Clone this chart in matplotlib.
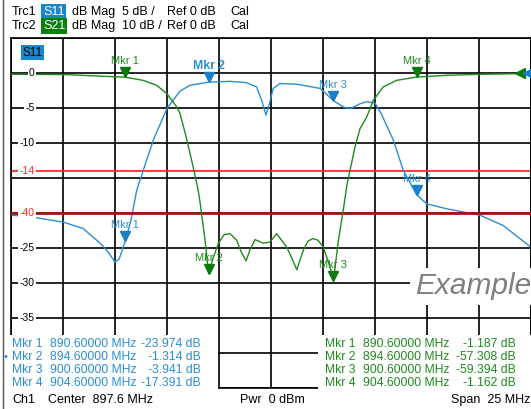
import matplotlib
matplotlib.use("Agg")
import matplotlib.pyplot as plt
import matplotlib.transforms as mtransforms
from matplotlib.patches import Rectangle
from matplotlib.lines import Line2D

plt.rcParams["font.family"] = ["Liberation Sans", "DejaVu Sans"]

# Trace data (frequency in MHz, level in dB)
s11_freq = [885.10, 886.16, 887.60, 888.56, 889.38, 889.75, 890.10, 890.30, 890.48,
            890.60, 890.87, 891.14, 891.46, 891.94, 892.59, 893.22, 893.70, 894.60,
            895.63, 896.43, 896.91, 897.15, 897.36, 897.52, 897.71, 898.03, 898.84,
            899.96, 900.60, 901.08, 901.40, 901.88, 902.20, 902.60, 902.90, 903.48,
            903.96, 904.60, 905.09, 906.05, 907.64, 908.77, 910.10]
s11_db = [-20.3, -20.6, -21.3, -22.2, -24.3, -25.5, -27.0, -26.6, -25.0,
          -23.97, -21.0, -16.8, -13.9, -9.6, -5.1, -2.6, -1.76, -1.31,
          -1.19, -1.38, -2.0, -3.9, -6.0, -4.4, -2.2, -1.5, -1.6,
          -2.2, -3.94, -4.86, -5.1, -4.4, -4.1, -4.3, -5.8, -9.6,
          -13.9, -17.39, -18.7, -19.4, -20.3, -21.8, -24.9]

s21_freq = [885.10, 887.78, 889.52, 890.60, 891.45, 892.10, 892.59, 893.07, 893.22,
            893.51, 893.86, 894.10, 894.19, 894.43, 894.60, 894.81, 895.07, 895.34,
            895.63, 895.95, 896.16, 896.40, 896.59, 896.83, 897.23, 897.55, 897.87,
            898.35, 898.61, 898.84, 899.15, 899.38, 899.63, 899.86, 900.11, 900.44,
            900.60, 900.84, 901.08, 901.25, 901.40, 901.64, 901.88, 902.20, 902.52,
            902.99, 903.64, 904.60, 906.05, 907.65, 909.57, 910.10]
s21_db = [-0.37, -0.46, -0.94, -1.19, -2.1, -3.5, -5.9, -9.7, -11.5,
          -18.0, -26.9, -33.5, -37.0, -47.8, -57.3, -53.0, -48.7, -46.2,
          -45.9, -47.8, -51.0, -53.7, -50.5, -47.6, -48.6, -48.3, -45.9,
          -49.7, -53.0, -56.2, -50.7, -48.0, -47.3, -47.8, -49.7, -55.4,
          -59.39, -47.8, -39.0, -32.0, -27.8, -21.1, -15.9, -12.6, -7.8,
          -4.0, -2.1, -1.16, -0.66, -0.37, -0.2, -0.18]

# Markers
mkr_names = ["Mkr 1", "Mkr 2", "Mkr 3", "Mkr 4"]
mkr_freq = [890.6, 894.6, 900.6, 904.6]
mkr_s11 = [-23.974, -1.314, -3.941, -17.391]
mkr_s21 = [-1.187, -57.308, -59.394, -1.162]

# Axis
center, span = 897.6, 25.0
y_ticks = [0, -5, -10, -25, -30, -35]
limit_s11 = -14
limit_s21 = -40

BLUE = "#2a8ed4"
BLUE_M = "#1a7fc8"
GREEN = "#1f8a1f"
GREEN_M = "#0e7a0e"

W, H = 531, 409
fig = plt.figure(figsize=(W / 100, H / 100), dpi=100)


def fx(px):
    return px / W


def fy(py):
    return 1 - py / H


ax = fig.add_axes([fx(11), fy(388), 520 / W, 350 / H])
ax.set_xlim(center - span / 2, center + span / 2)
ax.set_ylim(-45, 5)
ax.set_xticks([center - span / 2 + 2.5 * i for i in range(11)])
ax.set_yticks(list(range(-45, 6, 5)))
ax.tick_params(length=0, labelbottom=False, labelleft=False)
ax.grid(color="black", lw=1.2)
ax.set_axisbelow(True)
for s in ax.spines.values():
    s.set_color("black")
    s.set_linewidth(1.2)

ax2 = ax.twinx()
ax2.set_ylim(-90, 10)
ax2.tick_params(length=0, labelright=False)
for s in ax2.spines.values():
    s.set_visible(False)

# limit lines
ax.axhline(limit_s11, color="#ff2a2a", lw=1.3)
ax2.axhline(limit_s21, color="#a31515", lw=2)

# traces
ax.plot(s11_freq, s11_db, color=BLUE, lw=1.0)
ax2.plot(s21_freq, s21_db, color=GREEN, lw=1.0)

# markers
tri_off = 3.6
for axis, vals, col, lcol in [(ax, mkr_s11, BLUE_M, BLUE), (ax2, mkr_s21, GREEN_M, GREEN)]:
    tri_tr = mtransforms.offset_copy(axis.transData, fig=fig, y=tri_off, units="points")
    lab_tr = mtransforms.offset_copy(axis.transData, fig=fig, y=11.5, units="points")
    for i, (f, v) in enumerate(zip(mkr_freq, vals)):
        axis.plot([f], [v], marker="v", ms=7.5, color=col, transform=tri_tr, clip_on=False)
        bold = axis is ax and i == 1
        axis.text(f, v, mkr_names[i], transform=lab_tr, ha="center", va="center",
                  color=lcol, fontsize=8.8 if bold else 8,
                  fontweight="bold" if bold else "normal")

# reference level arrows at right edge
ref_tr = mtransforms.blended_transform_factory(ax.transAxes, ax.transData)
ax2.plot([0.979], [0], marker="<", ms=7, color=GREEN_M, transform=ref_tr, clip_on=False)
ax2.plot([0.994], [0], marker="<", ms=7, color=BLUE_M, transform=ref_tr, clip_on=False)

# y labels drawn inside the grid
lab_tr = mtransforms.blended_transform_factory(ax2.transAxes, ax.transData)
for v in y_ticks:
    ax2.text(0.045, v, str(v), transform=lab_tr, ha="right", va="center",
             fontsize=7.5, color="black",
             bbox=dict(fc="white", ec="none", pad=0.8))
ax2.text(0.045, limit_s11, str(limit_s11), transform=lab_tr, ha="right", va="center",
         fontsize=7.5, color="#ff2a2a", bbox=dict(fc="white", ec="none", pad=0.8))
ax2.text(0.045, -20, str(limit_s21), transform=lab_tr, ha="right", va="center",
         fontsize=7.5, color="#ff2a2a", bbox=dict(fc="white", ec="none", pad=0.8))

# trace tag inside the plot
fig.text(fx(22.5), fy(52.5), "S11", ha="left", va="center", fontsize=8.5,
         color="black", zorder=6,
         bbox=dict(fc="#1a86cc", ec="none", pad=1.2))

# watermark
ax2.text(907.3, -30.5, "Example", transform=ax.transData, ha="center", va="center",
         fontsize=21.5, style="italic", color="#808080",
         bbox=dict(fc="white", ec="none", pad=3))

# header
hdr = [("Trc1", "S11", "#1a86cc", "5 dB /", 12), ("Trc2", "S21", "#0b800b", "10 dB /", 26)]
for trc, par, pc, scale, yy in hdr:
    fig.text(fx(12), fy(yy), trc, ha="left", va="center", fontsize=9)
    fig.text(fx(43), fy(yy), par, ha="left", va="center", fontsize=9, color="white",
             bbox=dict(fc=pc, ec="none", pad=1.2))
    fig.text(fx(72), fy(yy), "dB Mag", ha="left", va="center", fontsize=9)
    fig.text(fx(122), fy(yy), scale, ha="left", va="center", fontsize=9)
    fig.text(fx(167), fy(yy), "Ref 0 dB", ha="left", va="center", fontsize=9)
    fig.text(fx(230), fy(yy), "Cal", ha="left", va="center", fontsize=9)

# marker tables
fig.add_artist(Rectangle((fx(5), fy(393)), 213 / W, 58 / H, transform=fig.transFigure,
                         fc="white", ec="none", zorder=3))
fig.add_artist(Rectangle((fx(318), fy(393)), 213 / W, 58 / H, transform=fig.transFigure,
                         fc="white", ec="none", zorder=3))
rows_y = [344, 357, 370, 383]
for i in range(4):
    yy = fy(rows_y[i])
    fig.text(fx(12), yy, mkr_names[i], ha="left", va="center", fontsize=8.7, color=BLUE, zorder=4)
    fig.text(fx(50), yy, f"{mkr_freq[i]:.5f} MHz", ha="left", va="center", fontsize=8.7,
             color=BLUE, zorder=4)
    fig.text(fx(201), yy, f"{mkr_s11[i]:.3f} dB", ha="right", va="center", fontsize=8.7,
             color=BLUE, zorder=4)
    fig.text(fx(325), yy, mkr_names[i], ha="left", va="center", fontsize=8.7, color=GREEN, zorder=4)
    fig.text(fx(363), yy, f"{mkr_freq[i]:.5f} MHz", ha="left", va="center", fontsize=8.7,
             color=GREEN, zorder=4)
    fig.text(fx(516), yy, f"{mkr_s21[i]:.3f} dB", ha="right", va="center", fontsize=8.7,
             color=GREEN, zorder=4)
fig.text(fx(4), fy(rows_y[1]), "\u2022", ha="left", va="center", fontsize=8, color=BLUE, zorder=4)

# status line
fig.text(fx(12), fy(400), "Ch1", ha="left", va="center", fontsize=9)
fig.text(fx(48), fy(400), f"Center  {center} MHz", ha="left", va="center", fontsize=9)
fig.text(fx(240), fy(400), "Pwr  0 dBm", ha="left", va="center", fontsize=9)
fig.text(fx(530), fy(400), f"Span  {span:.0f} MHz", ha="right", va="center", fontsize=9)

# window border
fig.add_artist(Line2D([fx(3.3), fx(3.3)], [0, 1], color="#555555", lw=1, zorder=5))

fig.savefig("out.png", dpi=100)
